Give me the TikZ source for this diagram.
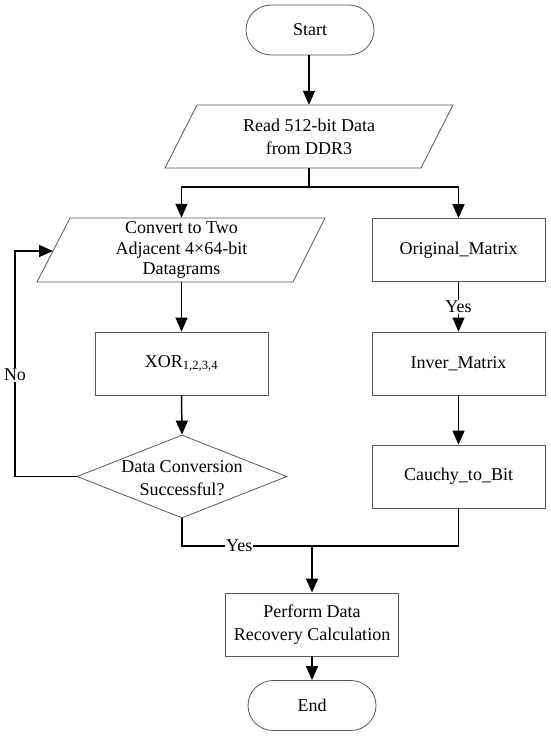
\documentclass[tikz,border=0pt]{standalone}
\usepackage{fontspec}
\setmainfont{Liberation Serif}
\usetikzlibrary{arrows.meta,shapes.misc,shapes.geometric}
\begin{document}
\begin{tikzpicture}[x=1pt,y={(0pt,-1pt)},
  every node/.style={font=\fontsize{18}{23}\selectfont, inner sep=0pt},
  boxline/.style={draw=black!65, line width=0.8pt},
  term/.style={boxline, rounded rectangle, minimum width=128pt, minimum height=50pt},
  procbox/.style={boxline, rectangle, minimum width=173pt, minimum height=63pt},
  txt/.style={align=center},
  conn/.style={line width=1.5pt, black},
  arr/.style={conn, -{Triangle[length=14pt,width=12pt]}},
  lbl/.style={fill=white, inner sep=1pt}
]
\useasboundingbox (0,0) rectangle (550,736);

% Start
\node[term] (start) at (310,30) {Start};

% Read parallelogram
\draw[boxline] (197,105) -- (453,105) -- (421,168) -- (165,168) -- cycle;
\node[txt, minimum width=224pt, minimum height=63pt] (read) at (309,136.5) {Read 512-bit Data\\from DDR3};

% Convert parallelogram
\draw[boxline] (70,218) -- (325,218) -- (293,282) -- (37,282) -- cycle;
\node[txt, minimum width=222pt, minimum height=64pt, font=\fontsize{18}{20.5}\selectfont] (conv) at (181.5,250) {Convert to Two\\Adjacent 4×64-bit\\Datagrams};
\coordinate (convin) at (53,251);

% Right column
\node[procbox] (orig) at (458.5,250) {Original\_Matrix};
\node[procbox] (inv) at (458.5,363.5) {Inver\_Matrix};
\node[procbox] (cau) at (458.5,476.5) {Cauchy\_to\_Bit};

% Left column
\node[procbox] (xor) at (181.5,363.5) {XOR\textsubscript{1,2,3,4}};
\node[boxline, diamond, minimum width=210pt, minimum height=83pt] (dec) at (182,476.5) {};
\node[txt] (dectxt) at (182,478) {Data Conversion\\Successful?};

% Bottom
\node[procbox, txt] (perf) at (312,624.5) {Perform Data\\Recovery Calculation};
\node[term] (fin) at (312,705.5) {End};

% Connectors
\coordinate (split) at (309,187);
\coordinate (join) at (312,546);
\draw[arr] (read.north |- start.south) -- (read.north);
\draw[conn] (read.south) -- (split);
\draw[arr] (split) -| (conv.north);
\draw[arr] (split) -| (orig.north);
\draw[arr] (conv.south) -- (xor.north);
\draw[arr] (xor.south) -- (dec.north);
\draw[arr] (dec.west) -- (15,476.5) |- (convin);
\node[lbl] (no) at (15,375) {No};
\draw[arr] (orig.south) -- node[lbl] (yes1) {Yes} (inv.north);
\draw[arr] (inv.south) -- (cau.north);
\draw[conn] (cau.south) |- (join);
\draw[conn] (dec.south) |- node[lbl, pos=0.72] (yes2) {Yes} (join);
\draw[arr] (join) -- (perf.north);
\draw[arr] (perf.south) -- (fin.north);
\end{tikzpicture}
\end{document}
